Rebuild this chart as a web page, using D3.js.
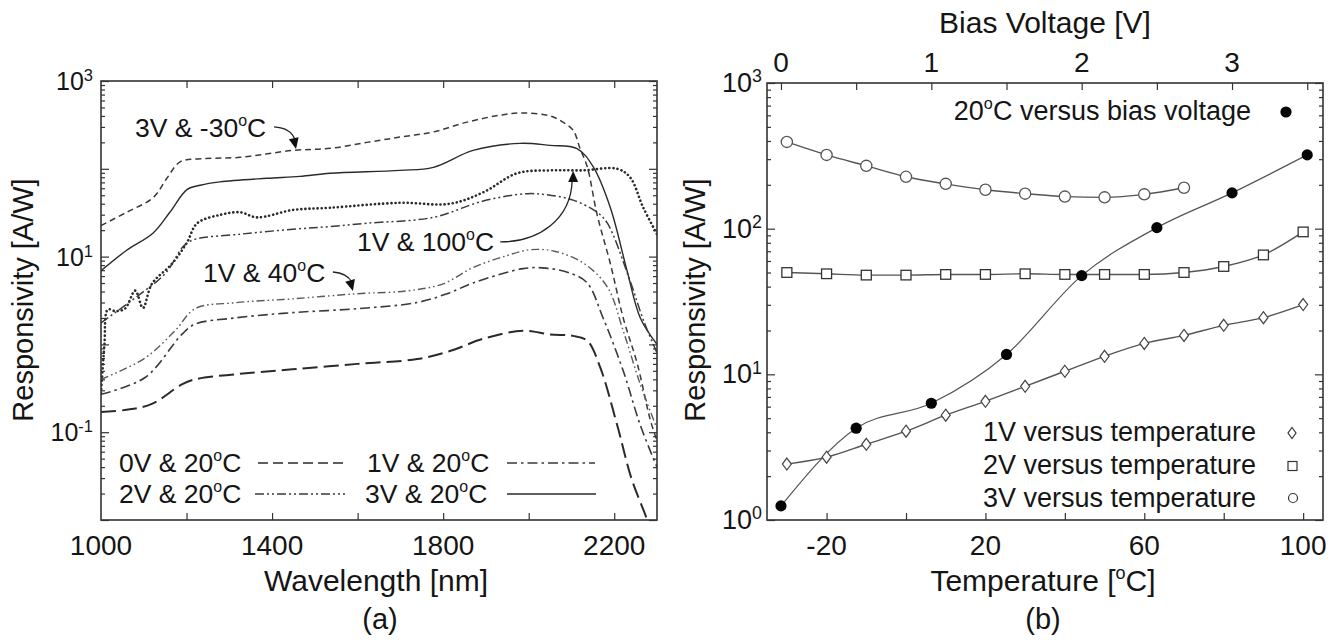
<!DOCTYPE html>
<html><head><meta charset="utf-8">
<script src="https://cdn.jsdelivr.net/npm/d3@7"></script>
<style>
body{margin:0;background:#fff}
svg{display:block}
text{font-family:"Liberation Sans",Arial,Helvetica,sans-serif;fill:#151515}
</style>
</head><body>
<svg id="c" width="1341" height="640"></svg>
<script>
// ---------------- DATA ----------------
// Panel (a): responsivity [A/W] vs wavelength [nm]
const resp_3V_m30C = [[1000,22.6],[1060,32],[1122,47],[1154,78],[1185,120],[1232,130],[1325,135],[1449,162],[1536,171],[1622,200],[1700,230],[1777,263],[1856,340],[1933,408],[1987,433],[2050,400],[2080,340],[2104,275],[2120,170],[2137,105],[2160,30],[2191,8.3],[2221,2],[2254,0.6],[2284,0.14],[2300,0.08]];
const resp_3V_20C = [[1000,6.9],[1060,11.8],[1122,18.6],[1161,32],[1201,58],[1232,65],[1278,71],[1388,78],[1465,82],[1536,89],[1699,96],[1777,104],[1870,162],[1980,195],[2050,185],[2113,170],[2151,105],[2191,36],[2230,6.9],[2261,2],[2300,1]];
const resp_1V_100C = [[1000,0.28],[1008,1.0],[1016,2.5],[1033,2.4],[1056,2.55],[1080,4.1],[1098,2.6],[1119,4.9],[1166,8.3],[1201,14.5],[1225,24],[1280,30],[1325,32],[1365,28],[1449,34],[1536,36],[1699,41],[1816,40],[1894,54],[1973,89],[2050,96],[2127,96],[2207,100],[2237,80],[2268,36],[2300,18]];
const resp_2V_20C = [[1000,1.76],[1087,3.6],[1150,6.4],[1192,13],[1215,15.5],[1325,18],[1449,20.5],[1536,22],[1622,24],[1777,28],[1894,43],[1996,52],[2050,50],[2104,44],[2160,32],[2184,24],[2237,5.3],[2268,1.9],[2300,0.8]];
const resp_1V_40C = [[1000,0.40],[1103,0.70],[1173,1.43],[1220,2.55],[1313,2.98],[1447,3.3],[1599,3.78],[1716,4.07],[1800,4.9],[1870,7.5],[1950,10.3],[2004,12],[2060,11.5],[2127,8.5],[2184,4.5],[2221,1.43],[2261,0.35],[2300,0.11]];
const resp_1V_20C = [[1000,0.27],[1103,0.42],[1189,1.3],[1220,1.7],[1313,2.0],[1447,2.3],[1599,2.55],[1739,3.0],[1809,3.78],[1870,5.0],[1987,7.3],[2040,7.4],[2100,6.4],[2137,5.0],[2174,2.0],[2221,0.5],[2261,0.12],[2300,0.04]];
const resp_0V_20C = [[1000,0.17],[1060,0.18],[1119,0.21],[1189,0.35],[1220,0.40],[1320,0.46],[1447,0.52],[1599,0.6],[1739,0.68],[1816,0.84],[1894,1.16],[1987,1.43],[2050,1.3],[2104,1.25],[2137,1.1],[2167,0.55],[2207,0.12],[2240,0.03],[2277,0.01],[2290,0.006]];

// Panel (b): responsivity vs temperature / bias voltage
const temps = [-30,-20,-10,0,10,20,30,40,50,60,70,80,90,100];
const resp1V_T = [2.42,2.70,3.31,4.07,5.24,6.53,8.27,10.5,13.3,16.3,18.5,21.7,24.5,30.1];
const resp2V_T = [50,49,48,48,48.5,48.5,49,48.5,48.5,48.5,50,55,66,95];
const temps3V = [-30,-20,-10,0,10,20,30,40,50,60,70];
const resp3V_T = [394,321,270,227,203,185,174,166,164,172,191];
const biasV = [0,0.5,1,1.5,2,2.5,3,3.5];
const resp20C_V = [1.25,4.27,6.33,13.7,47.6,101.6,176,321];

// Tick labels
const wlTickLabels = [1000,1400,1800,2200];
const wlTicks = [1200,1400,1600,1800,2000,2200];
const leftExpLabels = [-1,1,3];
const tempTickLabels = [-20,20,60,100];
const tempTicks = [-20,0,20,40,60,80,100];
const biasTickLabels = [0,1,2,3];
const biasTicks = [0,0.5,1,1.5,2,2.5,3,3.5];
const rightExpLabels = [0,1,2,3];

// ---------------- LAYOUT ----------------
const svg = d3.select('#c');
const AX = '#333';
const A = {x0:101, x1:657, y0:81, y1:520};
const B = {x0:767, x1:1323, y0:83, y1:520};

const xL = d3.scaleLinear([1000,2300],[A.x0,A.x1]);
const yL = d3.scaleLog([0.01,1000],[A.y1,A.y0]);
const xT = d3.scaleLinear([-35,105],[B.x0,B.x1]);
const xV = d3.scaleLinear([-0.093,3.605],[B.x0,B.x1]);
const yR = d3.scaleLog([1,1000],[B.y1,B.y0]);

function logMinor(lo,hi){const o=[];for(let e=lo;e<hi;e++)for(let m=2;m<10;m++)o.push(+(m*Math.pow(10,e)).toPrecision(3));return o;}
function decades(lo,hi){const o=[];for(let e=lo;e<=hi;e++)o.push(Math.pow(10,e));return o;}

function styleAxis(g){g.select('.domain').remove();g.selectAll('.tick line').attr('stroke',AX).attr('stroke-width',1.2);g.selectAll('.tick text').remove();}

function degText(sel,str,size){
  const parts=str.split('°');
  sel.append('tspan').text(parts[0]);
  for(let i=1;i<parts.length;i++){
    sel.append('tspan').attr('font-size',size*0.6).attr('dy',-size*0.4).text('o');
    sel.append('tspan').attr('font-size',size).attr('dy',size*0.4).text(parts[i]);
  }
}
function label(g,x,y,str,size,anchor){
  const t=g.append('text').attr('x',x).attr('y',y).attr('font-size',size).attr('text-anchor',anchor||'start');
  degText(t,str,size);return t;
}
function powLabel(g,x,y,exp,size){
  const t=g.append('text').attr('x',x).attr('y',y).attr('font-size',size).attr('text-anchor','end');
  t.append('tspan').text('10');
  t.append('tspan').attr('font-size',size*0.66).attr('dy',-size*0.36).text(String(exp));
}

// ================= Panel (a) =================
const ga = svg.append('g');
ga.append('defs').append('clipPath').attr('id','clipA').append('rect')
  .attr('x',A.x0).attr('y',A.y0).attr('width',A.x1-A.x0).attr('height',A.y1-A.y0);

const lineA = d3.line().x(d=>xL(d[0])).y(d=>yL(d[1])).curve(d3.curveCatmullRom.alpha(0.5));
const seriesA = [
  {data:resp_3V_m30C, dash:'6 4', w:1.5, c:'#3a3a3a'},
  {data:resp_3V_20C,  dash:null, w:1.4, c:'#2a2a2a'},
  {data:resp_1V_100C, dash:'0.1 4', w:2.6, c:'#2a2a2a', cap:'round'},
  {data:resp_2V_20C,  dash:'9 3 2 3 2 3', w:1.5, c:'#3a3a3a'},
  {data:resp_1V_40C,  dash:'8 3 1.6 3 1.6 3', w:1.4, c:'#5a5a5a'},
  {data:resp_1V_20C,  dash:'10 4 2.5 4', w:1.6, c:'#3a3a3a'},
  {data:resp_0V_20C,  dash:'15 6', w:2.0, c:'#2a2a2a'}
];
const curvesA = ga.append('g').attr('clip-path','url(#clipA)');
seriesA.forEach(s=>{
  curvesA.append('path').attr('d',lineA(s.data)).attr('fill','none')
    .attr('stroke',s.c).attr('stroke-width',s.w)
    .attr('stroke-dasharray',s.dash).attr('stroke-linecap',s.cap||'butt');
});

// axes (a)
ga.append('g').attr('transform',`translate(0,${A.y1})`).call(d3.axisBottom(xL).tickValues(wlTicks).tickSize(-7)).call(styleAxis);
ga.append('g').attr('transform',`translate(0,${A.y0})`).call(d3.axisTop(xL).tickValues(wlTicks).tickSize(-7)).call(styleAxis);
ga.append('g').attr('transform',`translate(${A.x0},0)`).call(d3.axisLeft(yL).tickValues(logMinor(-2,3)).tickSize(-4)).call(styleAxis);
ga.append('g').attr('transform',`translate(${A.x0},0)`).call(d3.axisLeft(yL).tickValues(decades(-2,3)).tickSize(-8)).call(styleAxis);
ga.append('g').attr('transform',`translate(${A.x1},0)`).call(d3.axisRight(yL).tickValues(logMinor(-2,3)).tickSize(-4)).call(styleAxis);
ga.append('g').attr('transform',`translate(${A.x1},0)`).call(d3.axisRight(yL).tickValues(decades(-2,3)).tickSize(-8)).call(styleAxis);
ga.append('rect').attr('x',A.x0).attr('y',A.y0).attr('width',A.x1-A.x0).attr('height',A.y1-A.y0)
  .attr('fill','none').attr('stroke',AX).attr('stroke-width',1.6);

wlTickLabels.forEach(v=>ga.append('text').attr('x',xL(v)).attr('y',555).attr('font-size',28).attr('text-anchor','middle').text(v));
leftExpLabels.forEach(e=>powLabel(ga,93,yL(Math.pow(10,e))+9,e,25));

ga.append('text').attr('x',376).attr('y',591).attr('font-size',30).attr('text-anchor','middle').text('Wavelength [nm]');
ga.append('text').attr('x',380).attr('y',629).attr('font-size',29).attr('text-anchor','middle').text('(a)');
ga.append('text').attr('transform','translate(33,300) rotate(-90)').attr('font-size',29).attr('text-anchor','middle').text('Responsivity [A/W]');

// legend (a)
const legA = [
  {t:'0V & 20°C', x:119, y:472, lx0:258, lx1:347, s:6},
  {t:'1V & 20°C', x:367, y:472, lx0:507, lx1:595, s:5},
  {t:'2V & 20°C', x:119, y:503, lx0:255, lx1:345, s:3},
  {t:'3V & 20°C', x:365, y:503, lx0:507, lx1:596, s:1}
];
legA.forEach(l=>{
  label(ga,l.x,l.y,l.t,26.5);
  const s=seriesA[l.s];
  ga.append('line').attr('x1',l.lx0).attr('x2',l.lx1).attr('y1',l.y-9).attr('y2',l.y-9)
    .attr('stroke',s.c).attr('stroke-width',Math.min(s.w,1.5))
    .attr('stroke-dasharray',l.s===6?'10 5':s.dash);
});

// annotations (a)
function arrowHead(g,x,y,ang){ // ang: direction in degrees the arrow points
  g.append('path').attr('d','M0,0 L-11,-5 L-11,5 Z').attr('fill','#111')
    .attr('transform',`translate(${x},${y}) rotate(${ang})`);
}
const ann = ga.append('g');
// 3V & -30C
{const tx=xL(1456), ty=yL(164);
 label(ann,135,137,'3V & -30°C',26.5);
 ann.append('path').attr('d',`M${tx-22},${ty-23} Q${tx-5},${ty-22} ${tx-1},${ty-10}`).attr('fill','none').attr('stroke','#222').attr('stroke-width',1.3);
 arrowHead(ann,tx,ty-1,78);}
// 1V & 100C
{const tx=xL(2104), ty=yL(97);
 label(ann,357,251,'1V & 100°C',26.5);
 ann.append('path').attr('d',`M${tx-73},${ty+72} C${tx-35},${ty+72} ${tx-2},${ty+50} ${tx-1},${ty+10}`).attr('fill','none').attr('stroke','#222').attr('stroke-width',1.3);
 arrowHead(ann,tx,ty+1,-90);}
// 1V & 40C
{const tx=xL(1589), ty=yL(3.95);
 label(ann,203,282,'1V & 40°C',26.5);
 ann.append('path').attr('d',`M${tx-20},${ty-20} Q${tx-6},${ty-19} ${tx-1},${ty-10}`).attr('fill','none').attr('stroke','#222').attr('stroke-width',1.3);
 arrowHead(ann,tx,ty-1,75);}

// ================= Panel (b) =================
const gb = svg.append('g');
const lineT = d3.line().x(d=>xT(d[0])).y(d=>yR(d[1])).curve(d3.curveMonotoneX);
const lineV = d3.line().x(d=>xV(d[0])).y(d=>yR(d[1])).curve(d3.curveMonotoneX);
const d1 = temps.map((t,i)=>[t,resp1V_T[i]]);
const d2 = temps.map((t,i)=>[t,resp2V_T[i]]);
const d3v = temps3V.map((t,i)=>[t,resp3V_T[i]]);
const dV = biasV.map((v,i)=>[v,resp20C_V[i]]);
const LC='#555';
[d1,d2,d3v].forEach(d=>gb.append('path').attr('d',lineT(d)).attr('fill','none').attr('stroke',LC).attr('stroke-width',1.4));
gb.append('path').attr('d',lineV(dV)).attr('fill','none').attr('stroke',LC).attr('stroke-width',1.2);

const diamond = (hw,hh)=>`M0,${-hh} L${hw},0 L0,${hh} L${-hw},0 Z`;
gb.selectAll('.dia').data(d1).join('path').attr('d',diamond(4.5,6))
  .attr('transform',d=>`translate(${xT(d[0])},${yR(d[1])})`).attr('fill','#fff').attr('stroke','#444').attr('stroke-width',1.2);
gb.selectAll('.sq').data(d2).join('rect').attr('x',d=>xT(d[0])-5).attr('y',d=>yR(d[1])-4.8).attr('width',10).attr('height',9.6)
  .attr('fill','#fff').attr('stroke','#333').attr('stroke-width',1.3);
gb.selectAll('.ci').data(d3v).join('circle').attr('cx',d=>xT(d[0])).attr('cy',d=>yR(d[1])).attr('r',5.6)
  .attr('fill','#fff').attr('stroke','#555').attr('stroke-width',1.3);
gb.selectAll('.dot').data(dV).join('circle').attr('cx',d=>xV(d[0])).attr('cy',d=>yR(d[1])).attr('r',5.6).attr('fill','#050505');

// axes (b)
gb.append('g').attr('transform',`translate(0,${B.y1})`).call(d3.axisBottom(xT).tickValues(tempTicks).tickSize(-7)).call(styleAxis);
gb.append('g').attr('transform',`translate(0,${B.y0})`).call(d3.axisTop(xV).tickValues(biasTicks).tickSize(-7)).call(styleAxis);
gb.append('g').attr('transform',`translate(${B.x0},0)`).call(d3.axisLeft(yR).tickValues(logMinor(0,3)).tickSize(-4)).call(styleAxis);
gb.append('g').attr('transform',`translate(${B.x0},0)`).call(d3.axisLeft(yR).tickValues(decades(0,3)).tickSize(-8)).call(styleAxis);
gb.append('g').attr('transform',`translate(${B.x1},0)`).call(d3.axisRight(yR).tickValues(logMinor(0,3)).tickSize(-4)).call(styleAxis);
gb.append('g').attr('transform',`translate(${B.x1},0)`).call(d3.axisRight(yR).tickValues(decades(0,3)).tickSize(-8)).call(styleAxis);
gb.append('rect').attr('x',B.x0).attr('y',B.y0).attr('width',B.x1-B.x0).attr('height',B.y1-B.y0)
  .attr('fill','none').attr('stroke',AX).attr('stroke-width',1.6);

tempTickLabels.forEach(v=>gb.append('text').attr('x',xT(v)).attr('y',555).attr('font-size',28).attr('text-anchor','middle').text(v));
biasTickLabels.forEach(v=>gb.append('text').attr('x',xV(v)).attr('y',72).attr('font-size',28).attr('text-anchor','middle').text(v));
rightExpLabels.forEach(e=>powLabel(gb,762,yR(Math.pow(10,e))+9,e,27));

gb.append('text').attr('x',1045).attr('y',33).attr('font-size',30).attr('text-anchor','middle').text('Bias Voltage [V]');
label(gb,1043,591,'Temperature [°C]',30,'middle');
gb.append('text').attr('x',1043).attr('y',629).attr('font-size',29).attr('text-anchor','middle').text('(b)');
gb.append('text').attr('transform','translate(705,300) rotate(-90)').attr('font-size',29).attr('text-anchor','middle').text('Responsivity [A/W]');

// legend (b)
label(gb,1251,120,'20°C versus bias voltage',27,'end');
gb.append('circle').attr('cx',1286).attr('cy',112).attr('r',5.6).attr('fill','#050505');
label(gb,1256,441,'1V versus temperature',27,'end');
label(gb,1256,474,'2V versus temperature',27,'end');
label(gb,1256,507,'3V versus temperature',27,'end');
gb.append('path').attr('d',diamond(4,5.5)).attr('transform','translate(1292,433)').attr('fill','#fff').attr('stroke','#333').attr('stroke-width',1.2);
gb.append('rect').attr('x',1288).attr('y',461.5).attr('width',9).attr('height',9).attr('fill','#fff').attr('stroke','#333').attr('stroke-width',1.2);
gb.append('circle').attr('cx',1293).attr('cy',498).attr('r',4.5).attr('fill','#fff').attr('stroke','#333').attr('stroke-width',1.2);
</script>
</body></html>
